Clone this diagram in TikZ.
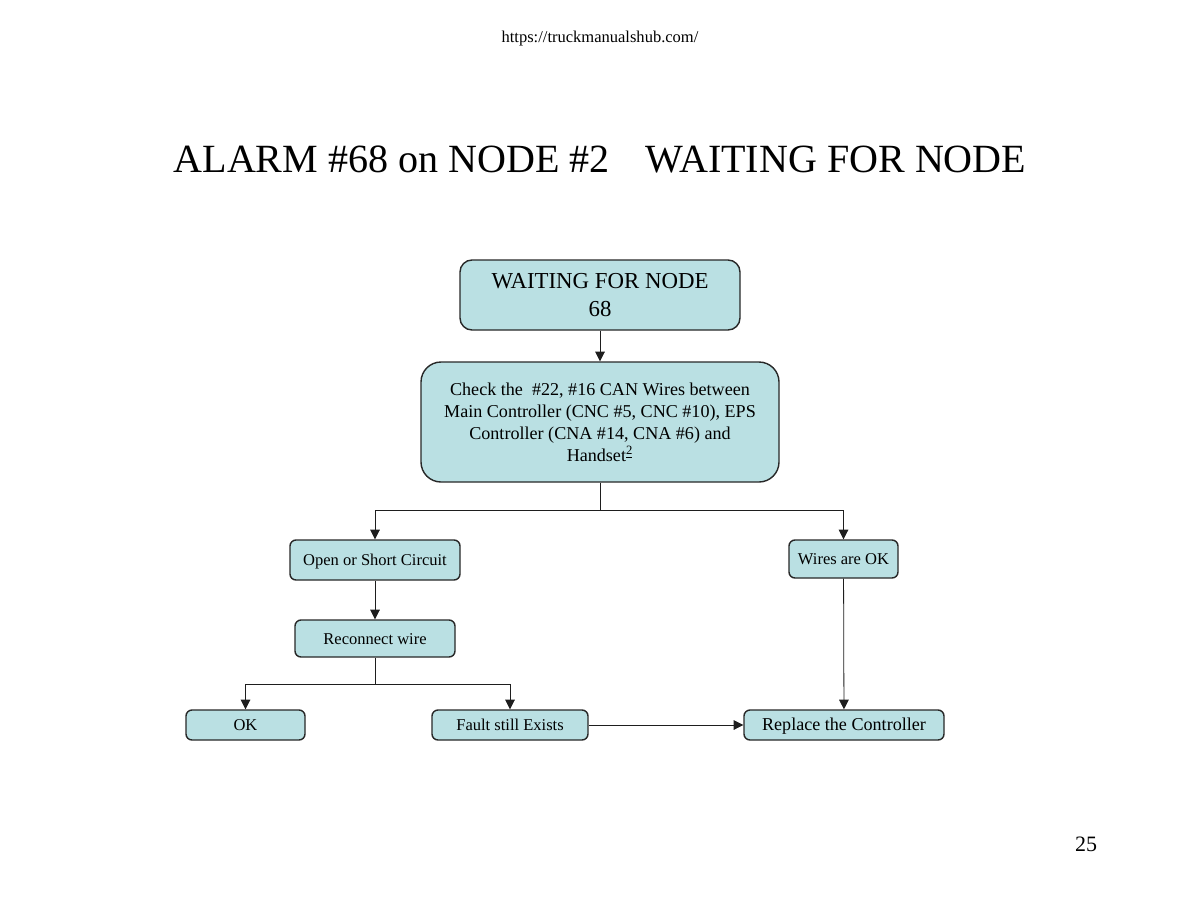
\documentclass[tikz,border=0pt]{standalone}
\usepackage{fontspec}
\setmainfont{Liberation Serif}
\usetikzlibrary{arrows.meta}
\definecolor{boxfill}{RGB}{186,224,227}
\definecolor{boxline}{RGB}{40,40,40}
\definecolor{wireline}{RGB}{30,30,30}
\begin{document}
\begin{tikzpicture}[x=0.02cm,y=-0.02cm,
  box/.style={draw=boxline,line width=0.8pt,fill=boxfill,rounded corners=0.12cm,
    inner sep=0pt,align=center,font=\fontsize{9.4}{11.5}\selectfont},
  small box/.style={box,text height=0.66em,text depth=0pt},
  link/.style={draw=wireline,line width=0.45pt,-{Triangle[length=5.5pt,width=5.5pt]}},
  wire/.style={draw=wireline,line width=0.45pt}]
  \useasboundingbox[fill=white] (0,0) rectangle (1200,900);
  \node[anchor=base,font=\fontsize{9.4}{11}\selectfont] (url) at (600,42) {https://truckmanualshub.com/};
  \node[anchor=base,font=\fontsize{22.8}{27}\selectfont] (title) at (600,172)
    {ALARM \#68 on NODE \#2\hspace{0.9em}WAITING FOR NODE};
  \node[anchor=base,font=\fontsize{12.5}{15}\selectfont] (page) at (1086,851) {25};
  % boxes
  \node[box,rounded corners=0.24cm,minimum width=280*0.02cm,minimum height=70*0.02cm,
    font=\fontsize{13}{15.5}\selectfont] (wait) at (600,295) {WAITING FOR NODE\\68};
  \node[box,rounded corners=0.4cm,minimum width=358*0.02cm,minimum height=120*0.02cm,
    font=\fontsize{10.3}{12.5}\selectfont] (check) at (600,422)
    {Check the~ \#22, \#16 CAN Wires between\\Main Controller (CNC \#5, CNC \#10), EPS\\
     Controller (CNA \#14, CNA \#6) and\\Handset\textsuperscript{\underline{2}}};
  \node[small box,minimum width=170*0.02cm,minimum height=40*0.02cm] (open) at (375,560) {Open or Short Circuit};
  \node[small box,minimum width=109*0.02cm,minimum height=38*0.02cm] (okwires) at (843.5,559) {Wires are OK};
  \node[small box,minimum width=160*0.02cm,minimum height=37*0.02cm] (reconnect) at (375,638.5) {Reconnect wire};
  \node[small box,minimum width=119*0.02cm,minimum height=30*0.02cm] (ok) at (245.5,725) {OK};
  \node[small box,minimum width=156*0.02cm,minimum height=30*0.02cm] (fault) at (510,725) {Fault still Exists};
  \node[small box,minimum width=200*0.02cm,minimum height=30*0.02cm,
    font=\fontsize{10.3}{12.3}\selectfont] (replace) at (844,725) {Replace the Controller};
  % connectors
  \coordinate (split1) at (600,510);
  \coordinate (split2) at (375,684);
  \path[link] (wait) -- (check);
  \path[wire] (check) -- (split1);
  \path[link] (split1) -| (open);
  \path[link] (split1) -| (okwires);
  \path[link] (open) -- (reconnect);
  \path[wire] (reconnect) -- (split2);
  \path[link] (split2) -| (ok);
  \path[link] (split2) -| (fault);
  \path[link] (fault) -- (replace);
  \path[link] (okwires) -- (replace);
\end{tikzpicture}
\end{document}
